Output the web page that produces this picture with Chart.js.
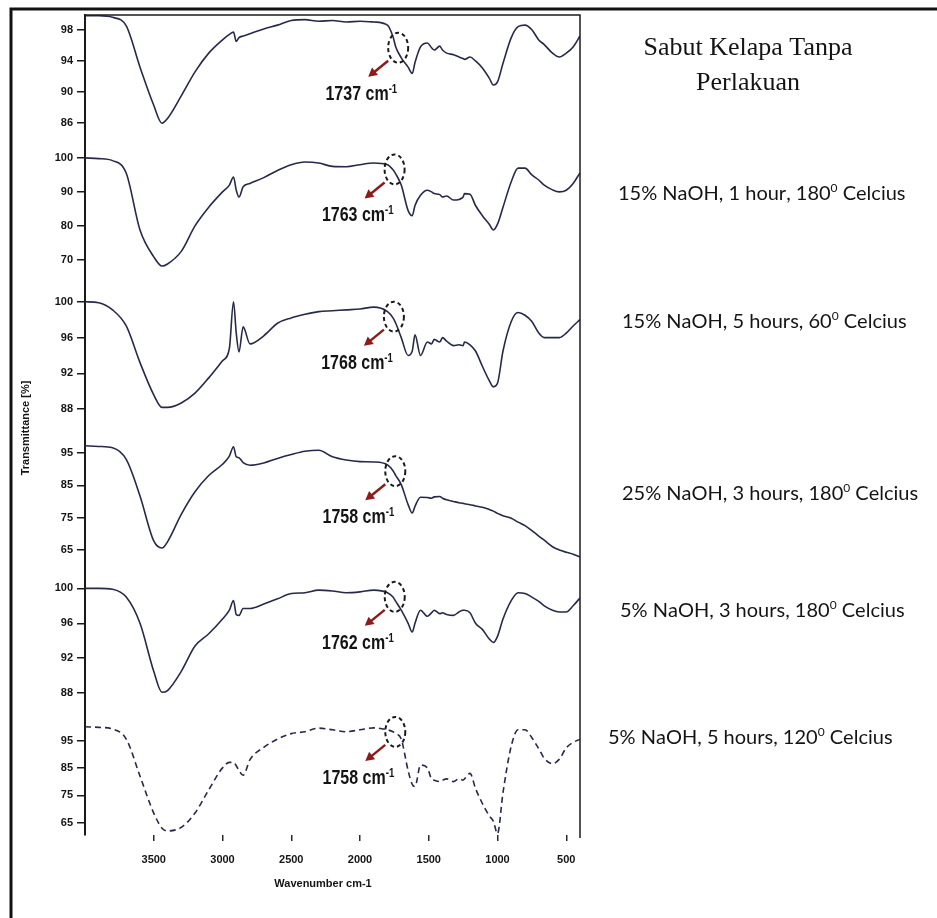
<!DOCTYPE html>
<html>
<head>
<meta charset="utf-8">
<title>FTIR sabut kelapa</title>
<script src="https://cdn.jsdelivr.net/npm/chart.js@4.4.1/dist/chart.umd.min.js"></script>
<style>
  html, body { margin: 0; padding: 0; background: #fff; }
  #wrap { position: relative; width: 937px; height: 918px; }
</style>
</head>
<body>
<div id="wrap"><canvas id="ftirChart" width="937" height="918"></canvas></div>
<script>
// shared wavenumber grid (cm-1)
var wavenumbers = [4000, 3900, 3800, 3700, 3600, 3500, 3440, 3400, 3300, 3200,
  3100, 3000, 2950, 2920, 2900, 2880, 2850, 2800, 2700, 2600,
  2500, 2400, 2300, 2200, 2100, 2000, 1900, 1800, 1760, 1740,
  1700, 1650, 1620, 1600, 1560, 1510, 1480, 1460, 1420, 1400,
  1370, 1320, 1280, 1250, 1240, 1200, 1160, 1110, 1060, 1030,
  1000, 960, 900, 850, 800, 750, 700, 660, 600, 550,
  500, 450, 400];

// transmittance (%) of each sample
var untreated = [99.8, 99.8, 99.6, 98.5, 93.2, 88.3, 86, 86.6, 89.5, 92.6,
  95, 96.7, 97.4, 97.7, 96.5, 97, 97.2, 97.5, 98.1, 98.6,
  99.2, 99.3, 99.1, 99.2, 99.0, 99.1, 99.0, 98.6, 97.1, 95.8,
  94.4, 93.2, 92.4, 93.8, 95.8, 96.3, 95.7, 95.4, 95.9, 95.4,
  95, 94.8, 94.5, 94.3, 94.2, 94.5, 94, 93.1, 91.8, 90.9,
  91.3, 93.7, 97, 98.4, 98.6, 98, 96.7, 96.1, 95, 94.5,
  95, 95.8, 97.2];

var naoh15_1h_180 = [100, 99.8, 99.2, 95.5, 78.8, 70.9, 68.2, 68.8, 72.5, 80,
  85.5, 90, 92, 94.4, 90.5, 88.5, 91.5, 92.5, 94.2, 96.3,
  98, 98.8, 98.5, 97.5, 97.4, 98, 98.5, 98, 96.5, 95.3,
  92, 84.5, 83, 86, 89, 90.5, 90, 89.5, 89.2, 88.5,
  88.8, 87.6, 87.8, 88.5, 89.5, 89.3, 86, 83, 80.5, 78.8,
  80.5, 85.5, 93, 97, 97, 95, 93.5, 92, 90.6, 90,
  90.5, 92.5, 95.6];

var naoh15_5h_60 = [100, 99.9, 99.1, 97.3, 93.2, 89.6, 88.2, 88.2, 88.7, 89.8,
  91.5, 93.4, 94.8, 100, 96.5, 94.4, 97.2, 95.3, 96.2, 97.6,
  98.2, 98.6, 98.9, 99, 99.1, 99.2, 99.4, 98.9, 98.2, 97.6,
  96, 94, 94.5, 96.3, 94, 95.5, 95.3, 95.8, 95.5, 96,
  95.6, 95.1, 95.2, 95.1, 95.5, 95.2, 94.5, 92.8, 91.2, 90.5,
  90.9, 94.5, 97.8, 98.8, 98.5, 97.8, 96.5, 96, 96, 96,
  96.5, 97.3, 98];

var naoh25_3h_180 = [97.2, 97, 96.6, 93, 81.7, 67.8, 65.6, 67.5, 76, 83,
  88, 91.5, 94, 96.9, 93.8, 93.5, 92, 91.2, 91.9, 93.3,
  94.5, 95.5, 95.8, 93.8, 92.8, 92.3, 92.2, 91.3, 89.5, 88,
  85.2, 79, 76.4, 78.5, 81.3, 81.2, 81, 81.4, 81.5, 81,
  80.5, 80, 79.6, 79.4, 79.3, 79, 78.6, 78.2, 77.5, 77,
  76.3, 75.6, 74.8, 73.6, 72.5, 71, 69.3, 68, 66, 65,
  64.3, 63.7, 62.8];

var naoh5_3h_180 = [100, 100, 99.9, 99, 96, 90.5, 88.1, 88.3, 90.5, 93.4,
  94.8, 96.5, 97.5, 98.6, 97, 96.9, 97.7, 97.7, 98.2, 98.8,
  99.4, 99.5, 99.8, 99.7, 99.5, 99.6, 99.8, 99.5, 99, 98.5,
  97.5, 96, 95, 96, 97.5, 96.8, 97.2, 97.5, 97.1, 97.2,
  97, 96.9, 97.3, 97.5, 97.5, 97.2, 96, 95.3, 94.2, 93.8,
  94.5, 96.5, 98.6, 99.5, 99.4, 99, 98.5, 98, 97.5, 97.3,
  97.3, 98, 98.9];

var naoh5_5h_120 = [100, 99.8, 99.2, 95.5, 82, 68.5, 63, 62, 63.3, 68.5,
  77, 85, 87, 87, 85.8, 84, 82.3, 88, 92.5, 95.5,
  97.5, 98.2, 99.5, 98.9, 98.2, 98.9, 99.6, 98.9, 98.2, 97.6,
  95.5, 84, 79, 78.2, 86, 85, 81, 80.5, 80, 80.5,
  81, 80, 81, 80.5, 81, 83, 77.5, 72, 67.5, 65.5,
  61, 76, 93, 98.9, 98.9, 96, 92, 88.5, 86.5, 88.2,
  92.3, 94.3, 95.4];

var seriesValues = [untreated, naoh15_1h_180, naoh15_5h_60, naoh25_3h_180, naoh5_3h_180, naoh5_5h_120];

var conditionLabels = ['Sabut Kelapa Tanpa Perlakuan',
  '15% NaOH, 1 hour, 180⁰ Celcius',
  '15% NaOH, 5 hours, 60⁰ Celcius',
  '25% NaOH, 3 hours, 180⁰ Celcius',
  '5% NaOH, 3 hours, 180⁰ Celcius',
  '5% NaOH, 5 hours, 120⁰ Celcius'];

// y tick labels of each stacked panel
var panelTicks = [[98, 94, 90, 86], [100, 90, 80, 70], [100, 96, 92, 88],
  [95, 85, 75, 65], [100, 96, 92, 88], [95, 85, 75, 65]];
var panelMin = [83.2, 63.2, 85.9, 58.8, 85.5, 60.5];
var panelMax = [99.9, 103.8, 102.1, 102.7, 102.1, 104.3];

var xTicks = [3500, 3000, 2500, 2000, 1500, 1000, 500];

// marked carbonyl peaks
var peakWavenumbers = [1737, 1763, 1768, 1758, 1762, 1758];
var peakLabels = ['1737 cm⁻¹', '1763 cm⁻¹', '1768 cm⁻¹', '1758 cm⁻¹', '1762 cm⁻¹', '1758 cm⁻¹'];

var lineColor = '#262a48';
var inkColor = '#141414';
var arrowColor = '#8c1c1c';
var supers = { '⁰': '0', '⁻': '-', '¹': '1' };

function valueAt(values, wn) {
  for (var i = 0; i < wavenumbers.length - 1; i++) {
    var a = wavenumbers[i], b = wavenumbers[i + 1];
    if (wn <= a && wn >= b) {
      var t = (a - wn) / (a - b);
      return values[i] + t * (values[i + 1] - values[i]);
    }
  }
  return values[values.length - 1];
}

// text with superscript characters, returns width
function drawRich(ctx, text, x, y, font, supFont, rise, measureOnly) {
  var w = 0;
  for (var i = 0; i < text.length; i++) {
    var ch = text[i];
    if (supers[ch]) {
      ctx.font = supFont;
      if (!measureOnly) ctx.fillText(supers[ch], x + w, y - rise);
      w += ctx.measureText(supers[ch]).width;
    } else {
      ctx.font = font;
      if (!measureOnly) ctx.fillText(ch, x + w, y);
      w += ctx.measureText(ch).width;
    }
  }
  return w;
}

var decor = {
  id: 'decor',
  afterDraw: function (chart) {
    var ctx = chart.ctx, a = chart.chartArea, sc = chart.scales;
    ctx.save();

    // frame of the figure
    ctx.strokeStyle = '#121212';
    ctx.lineWidth = 3;
    ctx.beginPath();
    ctx.moveTo(11, 918); ctx.lineTo(11, 9); ctx.lineTo(937, 9);
    ctx.stroke();

    // top and right edge of the plot box
    ctx.lineWidth = 1.5;
    ctx.strokeStyle = '#1c1c1c';
    ctx.beginPath();
    ctx.moveTo(a.left, a.top); ctx.lineTo(a.right, a.top); ctx.lineTo(a.right, a.bottom + 3);
    ctx.stroke();

    // axis titles
    ctx.fillStyle = inkColor;
    ctx.font = 'bold 11px "Liberation Sans", Arial, sans-serif';
    ctx.textAlign = 'center';
    ctx.textBaseline = 'alphabetic';
    ctx.fillText('Wavenumber cm-1', 323, 887);
    ctx.save();
    ctx.translate(29, 428);
    ctx.rotate(-Math.PI / 2);
    ctx.fillText('Transmittance [%]', 0, 0);
    ctx.restore();

    // peak markers
    ctx.textAlign = 'left';
    var pf = 'bold 20px "Liberation Sans", Arial, sans-serif';
    var psf = 'bold 12px "Liberation Sans", Arial, sans-serif';
    var squeeze = 0.8;
    for (var i = 0; i < peakWavenumbers.length; i++) {
      var px = sc.x.getPixelForValue(peakWavenumbers[i]);
      var py = sc['y' + i].getPixelForValue(valueAt(seriesValues[i], peakWavenumbers[i]));
      ctx.strokeStyle = '#1a1a1a';
      ctx.lineWidth = 2;
      ctx.setLineDash([4, 3]);
      ctx.beginPath();
      ctx.ellipse(px + 2, py, 10, 15, 0, 0, Math.PI * 2);
      ctx.stroke();
      ctx.setLineDash([]);

      // arrow
      var x0 = px - 8, y0 = py + 13, x1 = px - 28, y1 = py + 29;
      ctx.strokeStyle = arrowColor;
      ctx.fillStyle = arrowColor;
      ctx.lineWidth = 2.5;
      ctx.beginPath();
      ctx.moveTo(x0, y0); ctx.lineTo(x1 + 4, y1 - 3);
      ctx.stroke();
      var ang = Math.atan2(y1 - y0, x1 - x0);
      ctx.beginPath();
      ctx.moveTo(x1, y1);
      ctx.lineTo(x1 - 10 * Math.cos(ang - 0.5), y1 - 10 * Math.sin(ang - 0.5));
      ctx.lineTo(x1 - 10 * Math.cos(ang + 0.5), y1 - 10 * Math.sin(ang + 0.5));
      ctx.closePath();
      ctx.fill();

      // condensed bold label
      ctx.fillStyle = inkColor;
      var w = drawRich(ctx, peakLabels[i], 0, 0, pf, psf, 7, true) * squeeze;
      ctx.save();
      ctx.translate(px + 1 - w, py + 52);
      ctx.scale(squeeze, 1);
      drawRich(ctx, peakLabels[i], 0, 0, pf, psf, 7, false);
      ctx.restore();
    }

    // sample names on the right
    ctx.fillStyle = inkColor;
    ctx.textAlign = 'center';
    ctx.font = '26px "Liberation Serif", "Times New Roman", serif';
    ctx.fillText('Sabut Kelapa Tanpa', 748, 55);
    ctx.fillText('Perlakuan', 748, 90);
    ctx.textAlign = 'left';
    var cf = '20px Lato, "Liberation Sans", sans-serif';
    var csf = '12px Lato, "Liberation Sans", sans-serif';
    var lx = [618, 622, 622, 620, 608];
    var ly = [200, 328, 500, 617, 744];
    for (var k = 1; k < conditionLabels.length; k++) {
      drawRich(ctx, conditionLabels[k], lx[k - 1], ly[k - 1], cf, csf, 8, false);
    }
    ctx.restore();
  }
};

var tickFont = { family: '"Liberation Sans", Arial, sans-serif', size: 11, weight: 'bold' };

var scales = {
  x: {
    type: 'linear',
    min: 400,
    max: 4000,
    reverse: true,
    grid: { drawOnChartArea: false, tickLength: 6, color: '#2a2a2a', lineWidth: 1.5 },
    border: { display: false },
    ticks: { font: tickFont, color: inkColor, padding: 12, autoSkip: false, maxRotation: 0,
      callback: function (v) { return String(v); } },
    afterBuildTicks: function (s) { s.ticks = xTicks.map(function (v) { return { value: v }; }); },
    afterFit: function (s) { s.height = 83; }
  }
};

var panelHeights = [130, 138, 145, 142, 145, 120];
panelTicks.forEach(function (tks, i) {
  scales['y' + i] = {
    type: 'linear',
    position: 'left',
    stack: 'spectra',
    stackWeight: panelHeights[i],
    weight: 10 - i,
    min: panelMin[i],
    max: panelMax[i],
    grid: { drawOnChartArea: false, tickLength: 8, color: '#1a1a1a', lineWidth: 1.5 },
    border: { display: true, color: '#1a1a1a', width: 2 },
    ticks: { font: tickFont, color: inkColor, padding: 4, autoSkip: false,
      callback: function (v) { return String(v); } },
    afterBuildTicks: function (s) { s.ticks = tks.map(function (v) { return { value: v }; }); },
    afterFit: function (s) { s.width = 85; }
  };
});

var datasets = seriesValues.map(function (vals, i) {
  return {
    label: conditionLabels[i],
    data: wavenumbers.map(function (w, j) { return { x: w, y: vals[j] }; }),
    yAxisID: 'y' + i,
    borderColor: lineColor,
    borderWidth: 1.6,
    borderDash: i === 5 ? [6, 4] : [],
    pointRadius: 0,
    fill: false,
    cubicInterpolationMode: 'monotone'
  };
});

new Chart(document.getElementById('ftirChart'), {
  type: 'line',
  data: { datasets: datasets },
  options: {
    responsive: false,
    animation: false,
    devicePixelRatio: 1,
    layout: { padding: { left: 0, top: 15, right: 357, bottom: 0 } },
    plugins: { legend: { display: false }, tooltip: { enabled: false } },
    scales: scales
  },
  plugins: [decor]
});
</script>
</body>
</html>
